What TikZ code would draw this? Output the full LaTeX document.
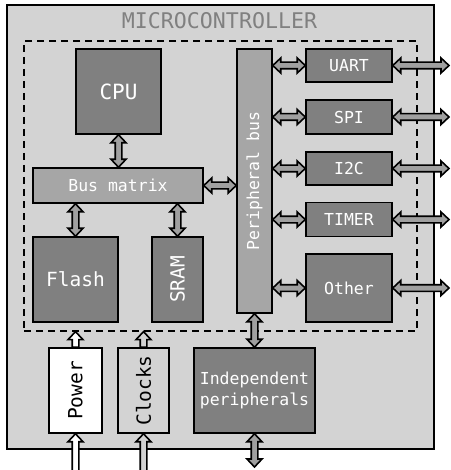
\documentclass[tikz,border=0pt]{standalone}
\usepackage{fontspec}
\setmainfont{DejaVu Sans Mono}
\usetikzlibrary{calc}
\definecolor{bg}{HTML}{D3D3D3}
\definecolor{dark}{HTML}{808080}
\definecolor{mid}{HTML}{A6A6A6}
\definecolor{arr}{HTML}{A0A0A0}
\definecolor{titlec}{HTML}{808080}
\definecolor{clk}{HTML}{D3D3D3}
\tikzset{
  ftitle/.style={font=\fontsize{21.6}{25}\selectfont},
  fbig/.style={font=\fontsize{21}{25}\selectfont},
  fmed/.style={font=\fontsize{19.5}{23}\selectfont},
  fsml/.style={font=\fontsize{16.5}{21}\selectfont},
  box/.style={draw=black, line width=1.5pt, fill=dark, text=white, inner sep=0pt, align=center},
  midbox/.style={box, fill=mid},
  fat/.style={draw=black, line width=1.6pt, fill=arr, line join=miter},
  dv/.style={to path={let \p1=(\tikztostart), \p2=(\tikztotarget), \n1={sign(\y2-\y1)} in
    (\x1,\y1) -- ({\x1+7.5pt},{\y1+\n1*8pt}) -- ({\x1+3.3pt},{\y1+\n1*8pt})
    -- ({\x1+3.3pt},{\y2-\n1*8pt}) -- ({\x1+7.5pt},{\y2-\n1*8pt}) -- (\x1,\y2)
    -- ({\x1-7.5pt},{\y2-\n1*8pt}) -- ({\x1-3.3pt},{\y2-\n1*8pt})
    -- ({\x1-3.3pt},{\y1+\n1*8pt}) -- ({\x1-7.5pt},{\y1+\n1*8pt}) -- cycle}},
  dh/.style={to path={let \p1=(\tikztostart), \p2=(\tikztotarget), \n1={sign(\x2-\x1)} in
    (\x1,\y1) -- ({\x1+\n1*8pt},{\y1+7.5pt}) -- ({\x1+\n1*8pt},{\y1+3.3pt})
    -- ({\x2-\n1*8pt},{\y1+3.3pt}) -- ({\x2-\n1*8pt},{\y1+7.5pt}) -- (\x2,\y1)
    -- ({\x2-\n1*8pt},{\y1-7.5pt}) -- ({\x2-\n1*8pt},{\y1-3.3pt})
    -- ({\x1+\n1*8pt},{\y1-3.3pt}) -- ({\x1+\n1*8pt},{\y1-7.5pt}) -- cycle}},
  sv/.style={to path={let \p1=(\tikztostart), \p2=(\tikztotarget), \n1={sign(\y2-\y1)} in
    ({\x1-3.3pt},\y1) -- ({\x1-3.3pt},{\y2-\n1*8pt}) -- ({\x1-7.5pt},{\y2-\n1*8pt})
    -- (\x1,\y2) -- ({\x1+7.5pt},{\y2-\n1*8pt}) -- ({\x1+3.3pt},{\y2-\n1*8pt})
    -- ({\x1+3.3pt},\y1) -- cycle}},
}
\begin{document}
\begin{tikzpicture}[x=1pt,y=-1pt]
\useasboundingbox (0,0) rectangle (450,470);
% outer box
\node[draw=black, line width=1.5pt, fill=bg, minimum width=427pt, minimum height=444pt, inner sep=0pt] (mcu) at (220.5,227) {};
\node[ftitle, text=titlec] (title) at (219.5,21) {MICROCONTROLLER};
% core dashed region
\node[draw=black, line width=1.3pt, dash pattern=on 7pt off 5pt, minimum width=393pt, minimum height=290pt, inner sep=0pt] (core) at (220.5,186) {};
% blocks
\node[box, fbig, minimum width=85pt, minimum height=85pt] (cpu) at (118.5,91.5) {CPU};
\node[midbox, minimum width=35pt, minimum height=264pt,
  label={[rotate=90, fsml, text=white]center:Peripheral bus}] (pbus) at (254.5,181) {};
\node[box, fsml, minimum width=86pt, minimum height=33pt] (uart) at (349,65.5) {UART};
\node[box, fsml, minimum width=86pt, minimum height=34pt] (spi) at (349,117) {SPI};
\node[box, fsml, minimum width=86pt, minimum height=33pt] (i2c) at (349,168.5) {I2C};
\node[box, fsml, minimum width=86pt, minimum height=34pt] (timer) at (349,219.5) {TIMER};
\node[box, fsml, minimum width=86pt, minimum height=68pt] (other) at (349,288) {Other};
\node[midbox, fsml, minimum width=170pt, minimum height=35pt] (bm) at (118,185.5) {Bus matrix};
\node[box, fmed, minimum width=85pt, minimum height=85pt] (flash) at (75.5,279.5) {Flash};
\node[box, minimum width=51pt, minimum height=85pt,
  label={[rotate=90, fmed, text=white]center:SRAM}] (sram) at (177.5,279.5) {};
\node[box, fill=white, minimum width=53pt, minimum height=85pt,
  label={[rotate=90, fmed, text=black]center:Power}] (power) at (75.5,390.5) {};
\node[box, fill=clk, minimum width=51pt, minimum height=85pt,
  label={[rotate=90, fmed, text=black]center:Clocks}] (clocks) at (143.5,390.5) {};
\node[box, fsml, minimum width=121pt, minimum height=85pt] (indep) at (254.5,390.5) {Independent\\peripherals};
% free ends
\coordinate (rx) at (449,0);
\coordinate (bot) at (0,474);
\coordinate (ibot) at (0,467);
% connectors
\draw[fat] (cpu.south) to[dv] (cpu.south |- bm.north);
\draw[fat] (flash.north) to[dv] (flash.north |- bm.south);
\draw[fat] (sram.north) to[dv] (sram.north |- bm.south);
\draw[fat] (bm.east) to[dh] (bm.east -| pbus.west);
\draw[fat] (uart.west) to[dh] (uart.west -| pbus.east);
\draw[fat] (spi.west) to[dh] (spi.west -| pbus.east);
\draw[fat] (i2c.west) to[dh] (i2c.west -| pbus.east);
\draw[fat] (timer.west) to[dh] (timer.west -| pbus.east);
\draw[fat] (other.west) to[dh] (other.west -| pbus.east);
\draw[fat] (uart.east) to[dh] (uart.east -| rx);
\draw[fat] (spi.east) to[dh] (spi.east -| rx);
\draw[fat] (i2c.east) to[dh] (i2c.east -| rx);
\draw[fat] (timer.east) to[dh] (timer.east -| rx);
\draw[fat] (other.east) to[dh] (other.east -| rx);
\draw[fat] (indep.north) to[dv] (indep.north |- pbus.south);
\draw[fat] (indep.south) to[dv] (indep.south |- ibot);
\draw[fat, fill=white] (power.south |- bot) to[sv] (power.south);
\draw[fat, fill=white] (power.north) to[sv] (power.north |- core.south);
\draw[fat, fill=clk] (clocks.south |- bot) to[sv] (clocks.south);
\draw[fat, fill=clk] (clocks.north) to[sv] (clocks.north |- core.south);
\end{tikzpicture}
\end{document}
